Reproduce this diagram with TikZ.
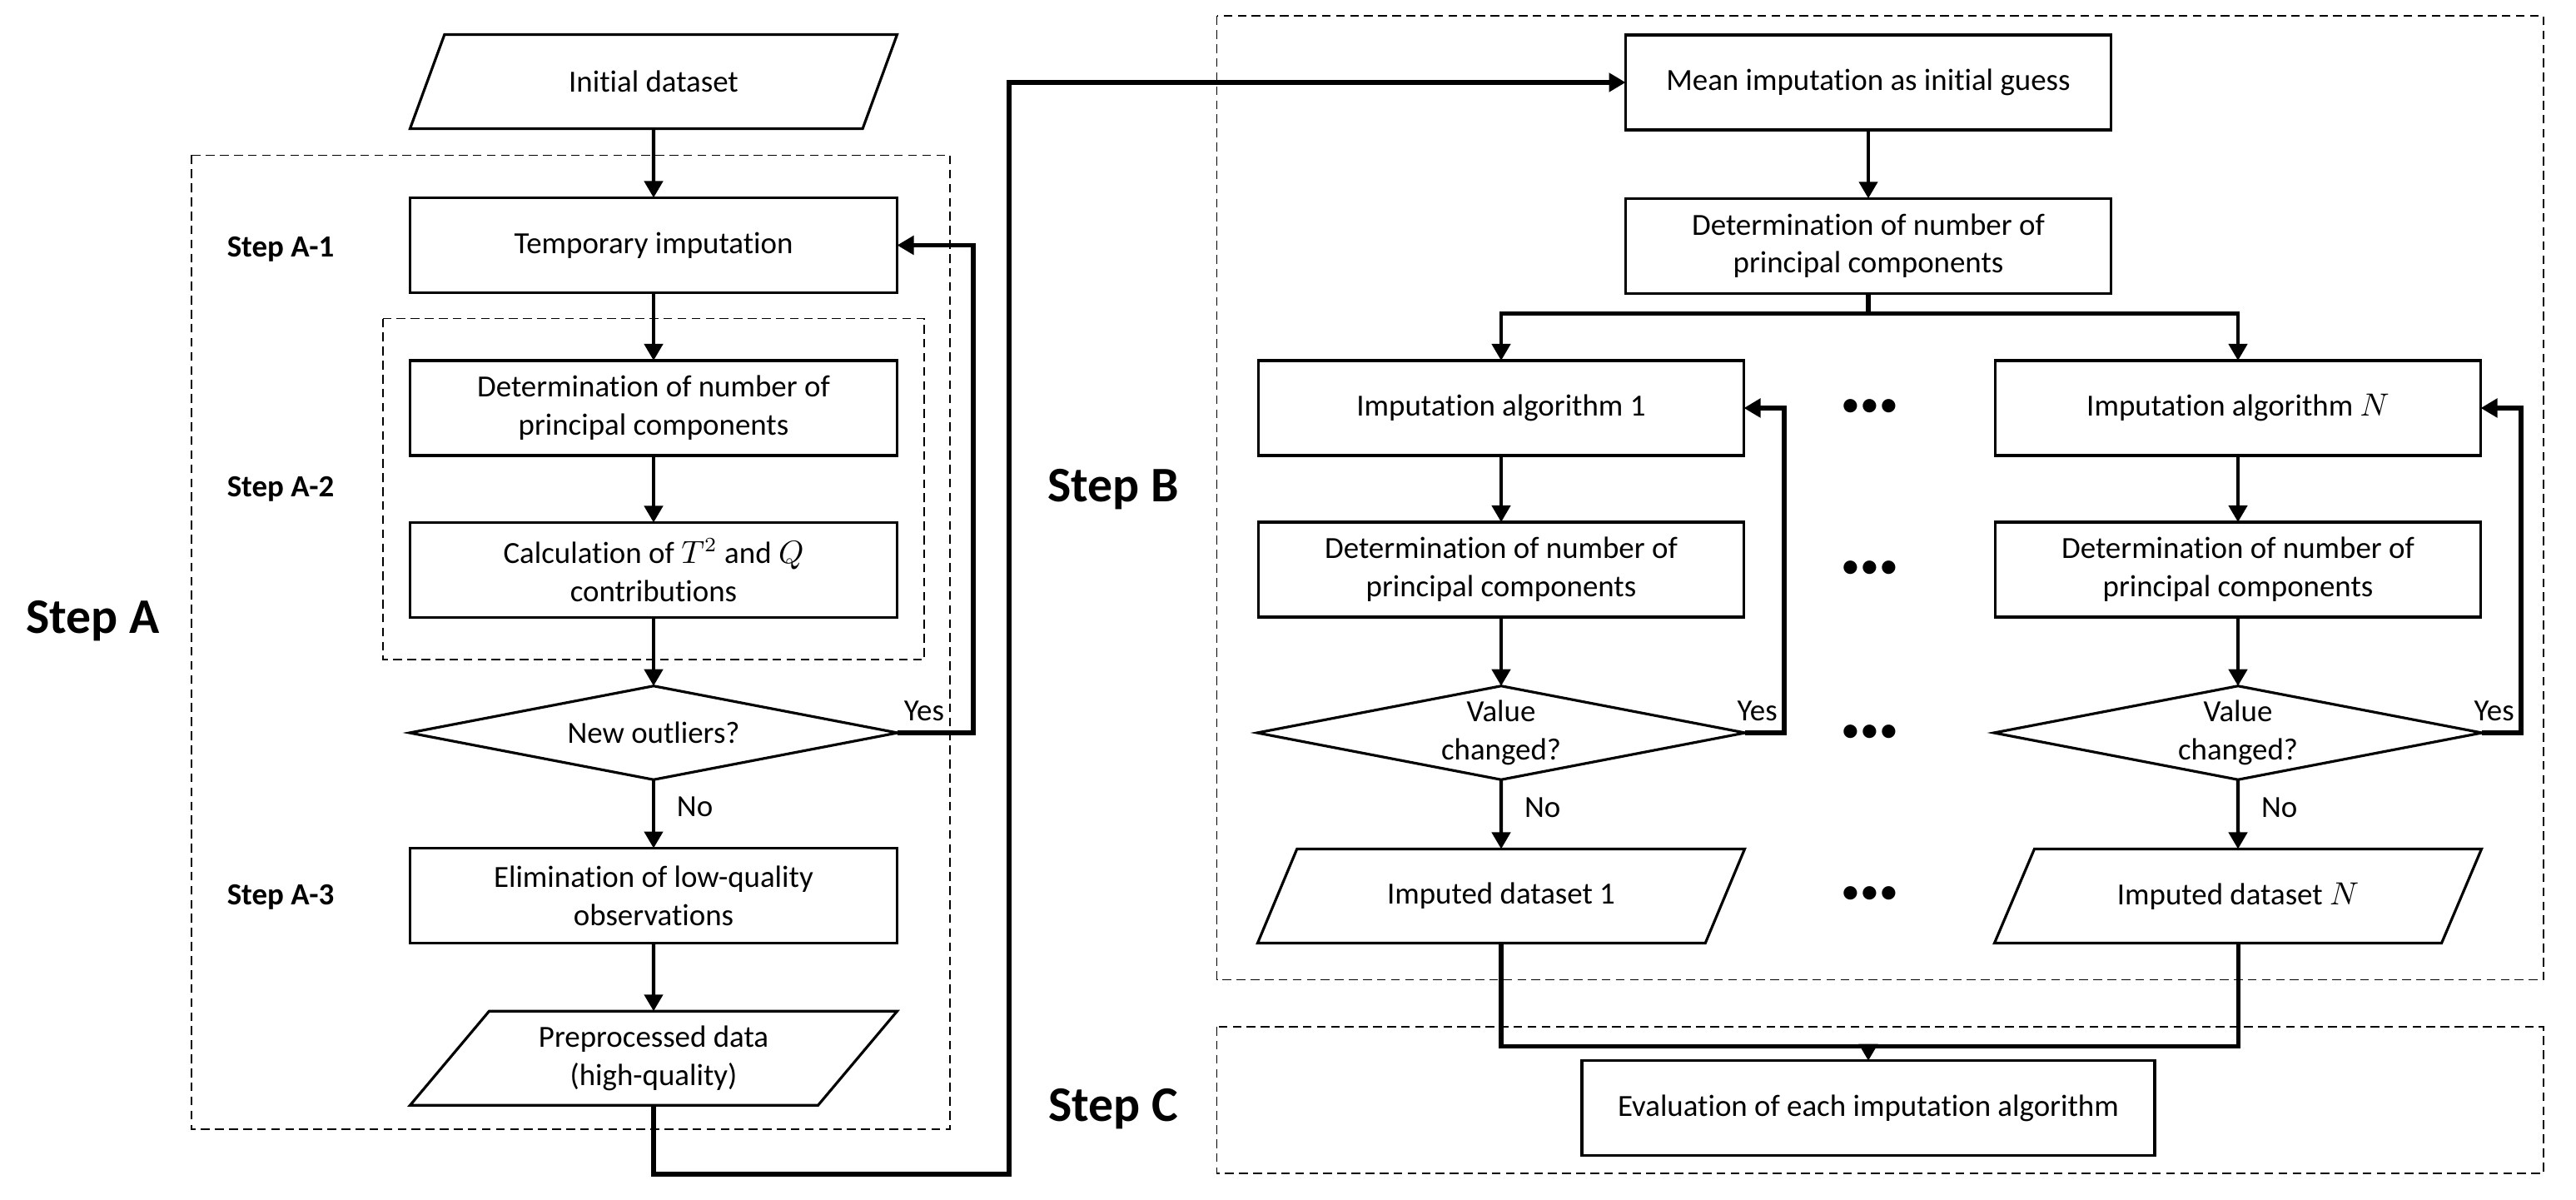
\documentclass[tikz,border=0pt]{standalone}
\usepackage{fontspec}
\setmainfont{Carlito}[Ligatures=NoCommon]
\usetikzlibrary{shapes.geometric,arrows.meta}

\begin{document}
\begin{tikzpicture}[
  font=\fontsize{10.5}{13}\selectfont,
  proc/.style={draw, line width=0.9pt, minimum width=5.85cm, minimum height=1.14cm, align=center, inner sep=2pt, outer sep=0pt},
  data/.style={draw, line width=0.9pt, trapezium, trapezium left angle=44, trapezium right angle=136, trapezium stretches body, minimum width=5.85cm, minimum height=1.13cm, align=center, inner sep=2pt, outer sep=0pt},
  check/.style={draw, line width=0.9pt, diamond, aspect=5.2, minimum width=5.86cm, minimum height=1.125cm, align=center, inner sep=0pt, outer sep=0pt},
  group/.style={draw, line width=0.5pt, dash pattern=on 3pt off 1.8pt},
  flow/.style={line width=1.25pt, -{Triangle[length=2mm,width=2.2mm]}},
  loopback/.style={flow, line width=1.45pt},
  link/.style={line width=1.45pt},
  lbl/.style={font=\fontsize{10.5}{13}\selectfont},
  stage/.style={font=\fontsize{10.5}{13}\selectfont\bfseries},
  phase/.style={font=\fontsize{17}{20}\selectfont\bfseries},
  dots/.style={font=\fontsize{13}{13}\selectfont}
]
\useasboundingbox (0,0) rectangle (30.94,14.40);

% Step A
\draw[group](2.30,12.535) rectangle (11.41,0.84);
\draw[group](4.60,10.574) rectangle (11.10,6.48);
\node[phase] at (1.115,6.94) (sa) {Step A};
\node[stage] at (3.37,11.41) (a1) {Step A-1};
\node[stage] at (3.37,8.525) (a2) {Step A-2};
\node[stage] at (3.37,3.625) (a3) {Step A-3};

\node[data] at (7.85,13.42) (init) {Initial dataset};
\node[proc] at (7.85,11.455) (tmp) {Temporary imputation};
\node[proc] at (7.85,9.50) (detA) {Determination of number of\\principal components};
\node[proc] at (7.85,7.555) (calc) {Calculation of $T^2$ and $Q$\\contributions};
\node[check] at (7.85,5.60) (outl) {New outliers?};
\node[proc] at (7.85,3.644) (elim) {Elimination of low-quality\\observations};
\node[data] at (7.85,1.692) (prep) {Preprocessed data\\(high-quality)};

\draw[flow](init.south)--(tmp.north);
\draw[flow](tmp.south)--(detA.north);
\draw[flow](detA.south)--(calc.north);
\draw[flow](calc.south)--(outl.north);
\draw[loopback](outl.east)--node[lbl,above,pos=0.35]{Yes} ++(0.91,0) |- (tmp.east);
\draw[flow](outl.south)--node[lbl,right,xshift=4pt,pos=0.4]{No} (elim.north);
\draw[flow](elim.south)--(prep.north);

% Step B
\draw[group](14.616,14.207) rectangle (30.55,2.634);
\node[phase] at (13.37,8.52) (sb) {Step B};

\node[proc, minimum width=5.83cm] at (22.44,13.41) (mean) {Mean imputation as initial guess};
\node[proc, minimum width=5.83cm] at (22.44,11.447) (detB) {Determination of number of\\principal components};
\node[proc, minimum width=5.83cm] at (18.03,9.50) (alg1) {Imputation algorithm 1};
\node[proc, minimum width=5.83cm] at (26.88,9.50) (algN) {Imputation algorithm $N$};
\node[proc, minimum width=5.83cm] at (18.03,7.56) (det1) {Determination of number of\\principal components};
\node[proc, minimum width=5.83cm] at (26.88,7.56) (detN) {Determination of number of\\principal components};
\node[check] at (18.03,5.60) (val1) {Value\\changed?};
\node[check] at (26.88,5.60) (valN) {Value\\changed?};
\node[data] at (18.03,3.64) (imp1) {Imputed dataset 1};
\node[data] at (26.88,3.64) (impN) {Imputed dataset $N$};

\foreach \y/\n in {9.50/1,7.56/2,5.593/3,3.65/4}
  \node[dots] at (22.46,\y) (dots\n) {\textbullet\textbullet\textbullet};

% link from Step A
\coordinate (low) at (12.12,0.30);
\draw[loopback](prep.south) |- (low) |- (mean.west);

\draw[flow](mean.south)--(detB.north);
\coordinate (split) at (22.44,10.635);
\draw[link](detB.south)--(split);
\draw[flow](split) -| (alg1.north);
\draw[flow](split) -| (algN.north);
\draw[flow](alg1.south)--(det1.north);
\draw[flow](algN.south)--(detN.north);
\draw[flow](det1.south)--(val1.north);
\draw[flow](detN.south)--(valN.north);
\draw[loopback](val1.east)--node[lbl,above,pos=0.31]{Yes} ++(0.47,0) |- (alg1.east);
\draw[loopback](valN.east)--node[lbl,above,pos=0.31]{Yes} ++(0.47,0) |- (algN.east);
\draw[flow](val1.south)--node[lbl,right,xshift=4pt,pos=0.4]{No} (imp1.north);
\draw[flow](valN.south)--node[lbl,right,xshift=4pt,pos=0.4]{No} (impN.north);

% Step C
\draw[group](14.616,2.07) rectangle (30.55,0.312);
\node[phase] at (13.37,1.08) (sc) {Step C};
\node[proc, minimum width=6.88cm] at (22.44,1.093) (eval) {Evaluation of each imputation algorithm};

\coordinate (join) at (22.44,1.832);
\draw[link](imp1.south) |- (join);
\draw[link](impN.south) |- (join);
\draw[flow](join)--(eval.north);
\end{tikzpicture}
\end{document}
